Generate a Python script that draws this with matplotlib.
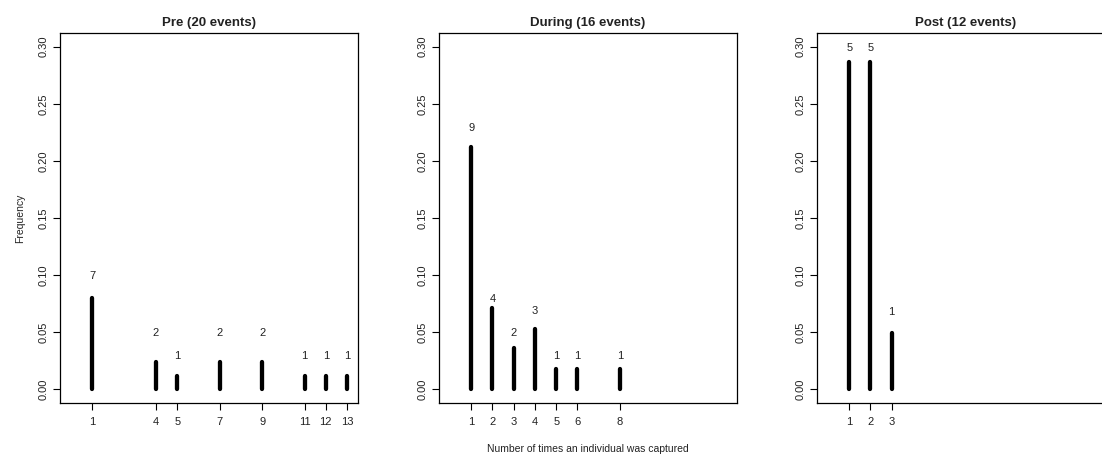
import matplotlib.pyplot as plt

plt.rcParams['font.family'] = ['Liberation Sans', 'DejaVu Sans']

# times captured, number of individuals, relative frequency
pre_x = [1, 4, 5, 7, 9, 11, 12, 13]
pre_n = [7, 2, 1, 2, 2, 1, 1, 1]
pre_freq = [0.080, 0.024, 0.012, 0.024, 0.024, 0.012, 0.012, 0.012]
pre_label_y = [0.099, 0.049, 0.029, 0.049, 0.049, 0.029, 0.029, 0.029]

during_x = [1, 2, 3, 4, 5, 6, 8]
during_n = [9, 4, 2, 3, 1, 1, 1]
during_freq = [0.212, 0.071, 0.036, 0.053, 0.018, 0.018, 0.018]
during_label_y = [0.229, 0.079, 0.049, 0.069, 0.029, 0.029, 0.029]

post_x = [1, 2, 3]
post_n = [5, 5, 1]
post_freq = [0.287, 0.287, 0.049]
post_label_y = [0.299, 0.299, 0.068]

titles = ["Pre (20 events)", "During (16 events)", "Post (12 events)"]
yticks = [0.00, 0.05, 0.10, 0.15, 0.20, 0.25, 0.30]

panels = [
    (pre_x, pre_n, pre_freq, pre_label_y),
    (during_x, during_n, during_freq, during_label_y),
    (post_x, post_n, post_freq, post_label_y),
]
lefts = [60, 439, 817]

fig = plt.figure(figsize=(11.02, 4.55), dpi=100)
W, H = 1102, 455

for i, (x, n, freq, ly) in enumerate(panels):
    ax = fig.add_axes([lefts[i] / W, 52 / H, 298 / W, 370 / H])
    ax.vlines(x, 0, freq, color='black', linewidth=3.1, capstyle='round')
    for xi, ni, yi in zip(x, n, ly):
        ax.text(xi, yi, str(ni), ha='center', va='center', fontsize=8, color='#222222')
    ax.set_xlim(-0.52, 13.52)
    ax.set_ylim(-0.012, 0.312)
    ax.set_xticks(x)
    ax.set_xticklabels([str(v) for v in x], fontsize=8, color='#222222')
    ax.set_yticks(yticks)
    ax.set_yticklabels(["%.2f" % v for v in yticks], fontsize=8, rotation=90,
                       va='center', color='#222222')
    ax.tick_params(axis='y', direction='out', length=5, width=0.8, pad=3)
    ax.tick_params(axis='x', direction='out', length=5, width=0.8, pad=5)
    for s in ax.spines.values():
        s.set_linewidth(0.9)
        s.set_color('black')
    ax.set_title(titles[i], fontsize=9.5, fontweight='bold', pad=5, color='#222222')
    if i == 0:
        ax.set_ylabel("Frequency", fontsize=7.5, labelpad=10, color='#222222')
    if i == 1:
        ax.set_xlabel("Number of times an individual was captured", fontsize=7.5,
                      labelpad=12, color='#222222')

fig.savefig("out.png", dpi=100, facecolor='white')
